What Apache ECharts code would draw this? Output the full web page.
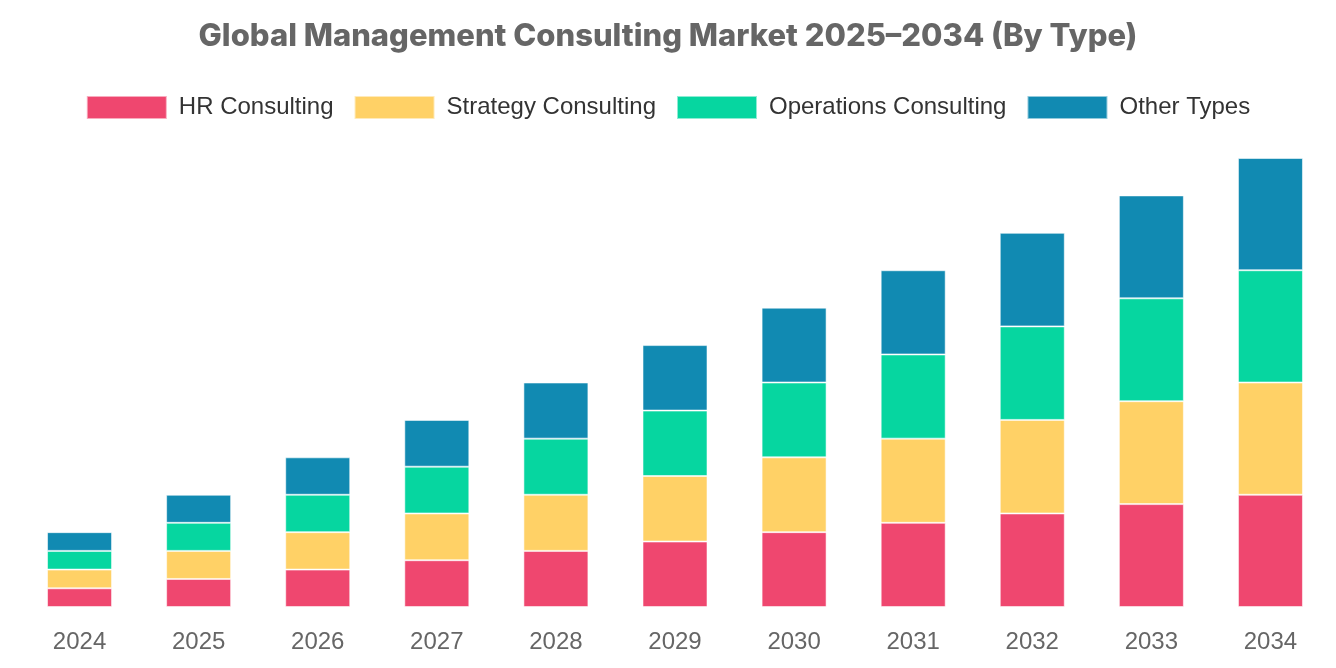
<!DOCTYPE html>
<html>
<head>
<meta charset="utf-8">
<script src="https://cdn.jsdelivr.net/npm/echarts@6/dist/echarts.min.js"></script>
<style>html,body{margin:0;padding:0;background:#fff}#c{width:1336px;height:668px}</style>
</head>
<body>
<div id="c"></div>
<script>
const years = ['2024','2025','2026','2027','2028','2029','2030','2031','2032','2033','2034'];
const hrConsulting = [2, 3, 4, 5, 6, 7, 8, 9, 10, 11, 12];
const strategyConsulting = [2, 3, 4, 5, 6, 7, 8, 9, 10, 11, 12];
const operationsConsulting = [2, 3, 4, 5, 6, 7, 8, 9, 10, 11, 12];
const otherTypes = [2, 3, 4, 5, 6, 7, 8, 9, 10, 11, 12];
const seriesNames = ['HR Consulting','Strategy Consulting','Operations Consulting','Other Types'];
const colors = ['#EF476F','#FFD166','#06D6A0','#118AB2'];

const chart = echarts.init(document.getElementById('c'));
const mk = (name, data, color) => ({
  name, type: 'bar', stack: 'total', data, barWidth: 65,
  itemStyle: { color, borderColor: 'rgba(255,255,255,0.55)', borderWidth: 1 }
});
chart.setOption({
  animation: false,
  title: {
    text: 'Global Management Consulting Market 2025–2034 (By Type)',
    left: 'center', top: 16,
    textStyle: { fontFamily: 'Inter', fontWeight: 800, fontSize: 31, color: '#666666' }
  },
  legend: {
    top: 90, left: 'center', itemWidth: 80, itemHeight: 23, itemGap: 20,
    icon: 'rect',
    textStyle: { fontFamily: 'Liberation Sans', fontSize: 24, color: '#333333', padding: [0,0,0,7] },
    data: seriesNames
  },
  grid: { left: 20, right: 6, top: 158, bottom: 61 },
  xAxis: {
    type: 'category', data: years,
    axisLine: { show: false }, axisTick: { show: false },
    axisLabel: { fontFamily: 'Liberation Sans', fontSize: 24, color: '#666666', margin: 23 }
  },
  yAxis: { type: 'value', min: 0, max: 48, show: false, splitLine: { show: false } },
  series: [
    mk(seriesNames[0], hrConsulting, colors[0]),
    mk(seriesNames[1], strategyConsulting, colors[1]),
    mk(seriesNames[2], operationsConsulting, colors[2]),
    mk(seriesNames[3], otherTypes, colors[3])
  ]
});
</script>
</body>
</html>
